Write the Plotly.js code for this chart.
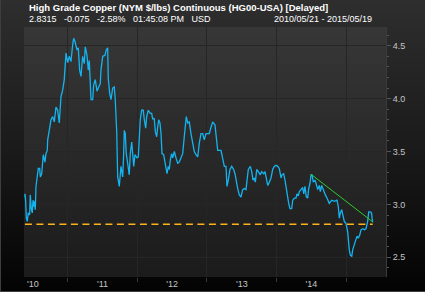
<!DOCTYPE html>
<html>
<head>
<meta charset="utf-8">
<script src="https://cdn.plot.ly/plotly-3.0.1.min.js"></script>
<style>
  html, body { margin: 0; padding: 0; }
  body { width: 425px; height: 292px; overflow: hidden;
         background: linear-gradient(to bottom, #2e2e2e 0%, #1a1a1a 52%, #030303 100%); }
  #chart { width: 425px; height: 292px; box-sizing: border-box;
           border-left: 1px solid #3e3e3e; border-bottom: 1px solid #3e3e3e; }
</style>
</head>
<body>
<div id="chart"></div>
<script>
// ---- data (time as decimal year, price in $/lb) ----
const years = [
  2010.386, 2010.387, 2010.397, 2010.406, 2010.420, 2010.434, 2010.454, 2010.463, 2010.477, 2010.492,
  2010.502, 2010.516, 2010.526, 2010.535, 2010.545, 2010.559, 2010.578, 2010.598, 2010.607, 2010.627,
  2010.641, 2010.650, 2010.674, 2010.688, 2010.707, 2010.713, 2010.736, 2010.760, 2010.785, 2010.808,
  2010.832, 2010.856, 2010.879, 2010.904, 2010.928, 2010.951, 2010.976, 2011.000, 2011.023, 2011.047,
  2011.072, 2011.086, 2011.105, 2011.134, 2011.152, 2011.172, 2011.191, 2011.215, 2011.238, 2011.253,
  2011.277, 2011.296, 2011.310, 2011.325, 2011.335, 2011.359, 2011.373, 2011.396, 2011.421, 2011.439,
  2011.468, 2011.478, 2011.503, 2011.536, 2011.554, 2011.574, 2011.583, 2011.603, 2011.622, 2011.646,
  2011.669, 2011.683, 2011.704, 2011.718, 2011.741, 2011.765, 2011.790, 2011.804, 2011.813, 2011.827,
  2011.841, 2011.861, 2011.884, 2011.899, 2011.919, 2011.933, 2011.948, 2011.966, 2011.995, 2012.014,
  2012.028, 2012.042, 2012.062, 2012.085, 2012.100, 2012.120, 2012.134, 2012.157, 2012.186, 2012.206,
  2012.220, 2012.243, 2012.258, 2012.278, 2012.292, 2012.307, 2012.325, 2012.340, 2012.354, 2012.378,
  2012.397, 2012.411, 2012.426, 2012.444, 2012.459, 2012.473, 2012.493, 2012.508, 2012.531, 2012.555,
  2012.579, 2012.602, 2012.627, 2012.651, 2012.674, 2012.689, 2012.703, 2012.723, 2012.746, 2012.770,
  2012.795, 2012.818, 2012.842, 2012.867, 2012.890, 2012.914, 2012.938, 2012.961, 2012.986, 2013.010,
  2013.033, 2013.058, 2013.082, 2013.115, 2013.129, 2013.154, 2013.201, 2013.226, 2013.249, 2013.273,
  2013.287, 2013.306, 2013.330, 2013.355, 2013.383, 2013.402, 2013.417, 2013.441, 2013.464, 2013.488,
  2013.513, 2013.536, 2013.560, 2013.574, 2013.593, 2013.622, 2013.642, 2013.661, 2013.679, 2013.694,
  2013.714, 2013.737, 2013.765, 2013.786, 2013.814, 2013.833, 2013.847, 2013.872, 2013.895, 2013.919,
  2013.943, 2013.966, 2013.991, 2014.015, 2014.038, 2014.063, 2014.077, 2014.101, 2014.120, 2014.139,
  2014.159, 2014.173, 2014.192, 2014.216, 2014.231, 2014.254, 2014.278, 2014.292, 2014.311, 2014.325,
  2014.350, 2014.374, 2014.389, 2014.407, 2014.426, 2014.446, 2014.460, 2014.479, 2014.493, 2014.508,
  2014.526, 2014.551, 2014.565, 2014.590, 2014.613, 2014.627, 2014.647, 2014.676, 2014.699, 2014.723,
  2014.742, 2014.756, 2014.791, 2014.828, 2014.867, 2014.885, 2014.900, 2014.914, 2014.934, 2014.953,
  2014.971, 2014.996, 2015.020, 2015.043, 2015.058, 2015.078, 2015.092, 2015.115, 2015.139, 2015.154,
  2015.172, 2015.193, 2015.211, 2015.236, 2015.259, 2015.283, 2015.307, 2015.322, 2015.345, 2015.362,
  2015.370, 2015.379
];
const prices = [
  3.07, 3.10, 3.03, 2.87, 2.84, 2.92, 2.90, 3.09, 2.96, 2.92,
  3.04, 2.98, 3.03, 2.95, 3.17, 3.26, 3.34, 3.34, 3.26, 3.29,
  3.39, 3.47, 3.40, 3.48, 3.51, 3.61, 3.70, 3.80, 3.83, 3.78,
  3.92, 3.89, 3.77, 4.02, 4.08, 4.18, 4.43, 4.34, 4.40, 4.35,
  4.51, 4.57, 4.54, 4.46, 4.48, 4.27, 4.21, 4.40, 4.33, 4.49,
  4.41, 4.27, 4.36, 4.18, 3.99, 3.99, 4.13, 4.18, 4.07, 4.10,
  4.14, 4.27, 4.40, 4.41, 4.46, 4.48, 4.19, 4.05, 3.99, 4.10,
  4.11, 3.99, 3.69, 3.26, 3.17, 3.36, 3.26, 3.48, 3.70, 3.67,
  3.48, 3.39, 3.28, 3.48, 3.59, 3.48, 3.36, 3.47, 3.44, 3.45,
  3.64, 3.80, 3.89, 3.89, 3.80, 3.72, 3.83, 3.89, 3.86, 3.86,
  3.81, 3.81, 3.69, 3.64, 3.73, 3.80, 3.77, 3.67, 3.48, 3.47,
  3.40, 3.33, 3.29, 3.36, 3.33, 3.42, 3.48, 3.44, 3.50, 3.44,
  3.39, 3.40, 3.45, 3.48, 3.64, 3.77, 3.83, 3.77, 3.78, 3.67,
  3.58, 3.50, 3.47, 3.45, 3.58, 3.67, 3.67, 3.61, 3.67, 3.67,
  3.67, 3.73, 3.78, 3.75, 3.66, 3.51, 3.51, 3.44, 3.36, 3.36,
  3.17, 3.23, 3.33, 3.36, 3.33, 3.29, 3.23, 3.15, 3.09, 3.07,
  3.14, 3.15, 3.14, 3.23, 3.33, 3.36, 3.31, 3.23, 3.25, 3.21,
  3.33, 3.31, 3.28, 3.31, 3.29, 3.31, 3.25, 3.18, 3.21, 3.25,
  3.33, 3.36, 3.37, 3.36, 3.34, 3.25, 3.28, 3.29, 3.23, 3.14,
  3.07, 3.01, 2.96, 2.96, 3.04, 3.06, 3.06, 3.10, 3.08, 3.12,
  3.14, 3.16, 3.10, 3.17, 3.07, 3.06, 3.15, 3.20, 3.28, 3.28,
  3.21, 3.23, 3.20, 3.14, 3.18, 3.12, 3.18, 3.12, 3.09, 3.06,
  3.03, 3.01, 3.04, 3.03, 3.04, 2.98, 2.87, 2.92, 2.95, 2.90,
  2.84, 2.82, 2.74, 2.57, 2.52, 2.51, 2.57, 2.62, 2.66, 2.70,
  2.68, 2.71, 2.76, 2.77, 2.76, 2.77, 2.84, 2.93, 2.93, 2.92,
  2.87, 2.8315
];
// trend line (green) and support level (orange dashed)
const trendYears = [2014.493, 2015.379];
const trendPrices = [3.285, 2.835];
const levelYears = [2010.386, 2015.379];
const levelPrices = [2.812, 2.812];
// axis ticks
const yearStarts = [2011, 2012, 2013, 2014, 2015];
const yearMids = [2010.5, 2011.5, 2012.5, 2013.5, 2014.5];
const yearLabels = ["'10", "'11", "'12", "'13", "'14"];
const priceTicks = [2.5, 3.0, 3.5, 4.0, 4.5];

// header texts
const titleText = "High Grade Copper (NYM $/lbs) Continuous (HG00-USA) [Delayed]";
const quoteText = "2.8315   -0.075   -2.58%   01:45:08 PM   USD";
const rangeText = "2010/05/21 - 2015/05/19";

const FONT = '"Liberation Sans", Arial, sans-serif';

const plotGrad = "data:image/svg+xml;utf8," + encodeURIComponent(
  '<svg xmlns="http://www.w3.org/2000/svg" width="10" height="100" viewBox="0 0 10 100" preserveAspectRatio="none">' +
  '<defs><linearGradient id="g" x1="0" y1="0" x2="0" y2="1">' +
  '<stop offset="0" stop-color="#373737"/><stop offset="1" stop-color="#1b1b1b"/>' +
  '</linearGradient></defs><rect width="10" height="100" fill="url(#g)"/></svg>');

const traces = [
  { x: levelYears, y: levelPrices, type: 'scatter', mode: 'lines',
    line: { color: '#ffb21a', width: 1.5, dash: '7px,4.5px' }, hoverinfo: 'skip' },
  { x: years, y: prices, type: 'scatter', mode: 'lines',
    line: { color: '#14b4f0', width: 1.3 }, hoverinfo: 'skip' },
  { x: trendYears, y: trendPrices, type: 'scatter', mode: 'lines',
    line: { color: '#2ccc2c', width: 1 }, hoverinfo: 'skip' }
];

const layout = {
  width: 425, height: 292,
  margin: { l: 23, r: 40, t: 27, b: 15, pad: 0 },
  paper_bgcolor: 'rgba(0,0,0,0)',
  plot_bgcolor: 'rgba(0,0,0,0)',
  showlegend: false,
  font: { family: FONT, size: 9, color: '#c4c4c4' },
  xaxis: {
    type: 'linear', range: [2010.373, 2015.570],
    tickmode: 'array', tickvals: yearMids, ticktext: yearLabels,
    showgrid: false, ticks: '', zeroline: false, showline: false,
    tickfont: { family: FONT, size: 9, color: '#c4c4c4' },
    minor: { tickmode: 'array', tickvals: yearStarts, showgrid: true,
             gridcolor: '#262626', gridwidth: 1, ticks: 'outside', ticklen: 4,
             tickcolor: '#3a3a3a', tickwidth: 1 },
    fixedrange: true
  },
  yaxis: {
    side: 'right', range: [2.314, 4.677],
    tickmode: 'array', tickvals: priceTicks, tickformat: '.1f',
    showgrid: true, gridcolor: '#262626', gridwidth: 1,
    ticks: 'outside', ticklen: 4, tickcolor: '#555555', tickwidth: 1,
    showline: true, linecolor: '#3a3a3a', linewidth: 1,
    zeroline: false,
    tickfont: { family: FONT, size: 9, color: '#c4c4c4' },
    minor: { dtick: 0.1, ticks: 'outside', ticklen: 2, tickcolor: '#555555', showgrid: false },
    fixedrange: true
  },
  images: [{
    source: plotGrad, xref: 'paper', yref: 'paper', x: 0, y: 1, sizex: 1, sizey: 1,
    sizing: 'stretch', xanchor: 'left', yanchor: 'top', layer: 'below'
  }],
  annotations: [
    { text: titleText, xref: 'paper', yref: 'paper', x: 0.008, y: 1.077,
      xanchor: 'left', yanchor: 'middle', showarrow: false,
      font: { family: FONT, size: 9.5, color: '#ffffff', weight: 'bold' } },
    { text: quoteText, xref: 'paper', yref: 'paper', x: 0.008, y: 1.033,
      xanchor: 'left', yanchor: 'middle', showarrow: false,
      font: { family: FONT, size: 9, color: '#ffffff' } },
    { text: rangeText, xref: 'paper', yref: 'paper', x: 0.966, y: 1.033,
      xanchor: 'right', yanchor: 'middle', showarrow: false,
      font: { family: FONT, size: 9, color: '#ffffff' } }
  ]
};

Plotly.newPlot('chart', traces, layout, { displayModeBar: false, staticPlot: true });
</script>
</body>
</html>
